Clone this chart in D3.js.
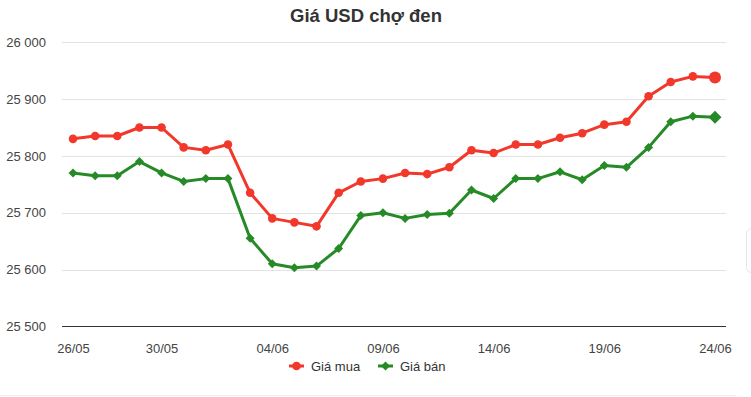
<!DOCTYPE html>
<html><head><meta charset="utf-8">
<script src="https://cdn.jsdelivr.net/npm/d3@7"></script>
<style>
html,body{margin:0;padding:0;background:#fff;}
svg{display:block;font-family:"Liberation Sans",Arial,sans-serif;}
</style></head>
<body>
<svg id="c" width="751" height="397"></svg>
<script>
const categories = ["26/05","27/05","28/05","29/05","30/05","31/05","01/06","02/06","03/06","04/06",
  "05/06","06/06","07/06","08/06","09/06","10/06","11/06","12/06","13/06","14/06",
  "15/06","16/06","17/06","18/06","19/06","20/06","21/06","22/06","23/06","24/06"];
const giaMua = [25830,25835,25835,25850,25850,25815,25810,25820,25735,25690,
  25683,25676,25735,25755,25760,25770,25768,25780,25810,25805,
  25820,25820,25832,25840,25855,25860,25905,25930,25940,25938];
const giaBan = [25770,25765,25765,25790,25770,25755,25760,25760,25655,25610,
  25603,25606,25637,25695,25700,25690,25697,25699,25740,25725,
  25760,25760,25772,25758,25783,25780,25815,25860,25870,25868];
const xTickLabels = ["26/05","30/05","04/06","09/06","14/06","19/06","24/06"];
const yTicks = [25500,25600,25700,25800,25900,26000];
const title = "Giá USD chợ đen";
const seriesNames = ["Giá mua","Giá bán"];

const svg = d3.select("#c");
const x = d3.scalePoint().domain(categories).range([73, 715]);
const y = d3.scaleLinear().domain([25500, 26000]).range([326.3, 42.3]);
const red = "#f1382b", green = "#268a27";
const fmt = v => d3.format(",")(v).replace(/,/g, " ");

// faint decorations
svg.append("line").attr("x1",0).attr("x2",736).attr("y1",395.5).attr("y2",395.5).attr("stroke","#eeeeee");
svg.append("rect").attr("x",746.5).attr("y",228.5).attr("width",20).attr("height",44).attr("rx",5)
  .attr("fill","#fff").attr("stroke","#e6e6e6");

// title
svg.append("text").attr("x",366).attr("y",22).attr("text-anchor","middle")
  .attr("font-size",18.5).attr("font-weight","bold").attr("fill","#333").text(title);

// grid + y axis
const yAxis = d3.axisLeft(y).tickValues(yTicks).tickSize(-(726-62)).tickFormat(fmt).tickPadding(16);
const gy = svg.append("g").attr("transform","translate(62,0)").call(yAxis);
gy.select(".domain").remove();
gy.selectAll(".tick line").attr("stroke","#e3e3e3").attr("shape-rendering","crispEdges");
gy.selectAll(".tick text").attr("font-size",13).attr("fill","#444").attr("font-family","Liberation Sans, Arial, sans-serif");
gy.selectAll(".tick").filter(d => d === 25500).select("line").attr("stroke","#333");

// x axis labels
const xAxis = d3.axisBottom(x).tickValues(xTickLabels).tickSize(0).tickPadding(17);
const gx = svg.append("g").attr("transform","translate(0,326.3)").call(xAxis);
gx.select(".domain").remove();
gx.selectAll(".tick text").attr("font-size",13).attr("fill","#444").attr("font-family","Liberation Sans, Arial, sans-serif");

const line = d3.line().x((d,i) => x(categories[i])).y(d => y(d));

// green series
svg.append("path").datum(giaBan).attr("d",line).attr("fill","none").attr("stroke",green)
  .attr("stroke-width",3).attr("stroke-linejoin","round");
const diamond = (cx, cy, r) => `M${cx},${cy-r}L${cx+r},${cy}L${cx},${cy+r}L${cx-r},${cy}Z`;
svg.append("g").selectAll("path").data(giaBan).join("path")
  .attr("d",(d,i) => diamond(x(categories[i]), y(d), i === giaBan.length-1 ? 6.5 : 4.5))
  .attr("fill",green);

// red series
svg.append("path").datum(giaMua).attr("d",line).attr("fill","none").attr("stroke",red)
  .attr("stroke-width",3).attr("stroke-linejoin","round");
svg.append("g").selectAll("circle").data(giaMua).join("circle")
  .attr("cx",(d,i) => x(categories[i])).attr("cy",d => y(d))
  .attr("r",(d,i) => i === giaMua.length-1 ? 6 : 4.3).attr("fill",red);

// legend
const leg = [{name:seriesNames[0], color:red, x0:289, tx:311, shape:"c"},
             {name:seriesNames[1], color:green, x0:378, tx:400, shape:"d"}];
const lg = svg.append("g");
leg.forEach(l => {
  lg.append("line").attr("x1",l.x0).attr("x2",l.x0+15).attr("y1",366).attr("y2",366)
    .attr("stroke",l.color).attr("stroke-width",3);
  if (l.shape === "c") lg.append("circle").attr("cx",l.x0+7.5).attr("cy",366).attr("r",4.3).attr("fill",l.color);
  else lg.append("path").attr("d",diamond(l.x0+7.5,366,4.5)).attr("fill",l.color);
  lg.append("text").attr("x",l.tx).attr("y",370.5).attr("font-size",13).attr("fill","#333").text(l.name);
});
</script>
</body></html>
